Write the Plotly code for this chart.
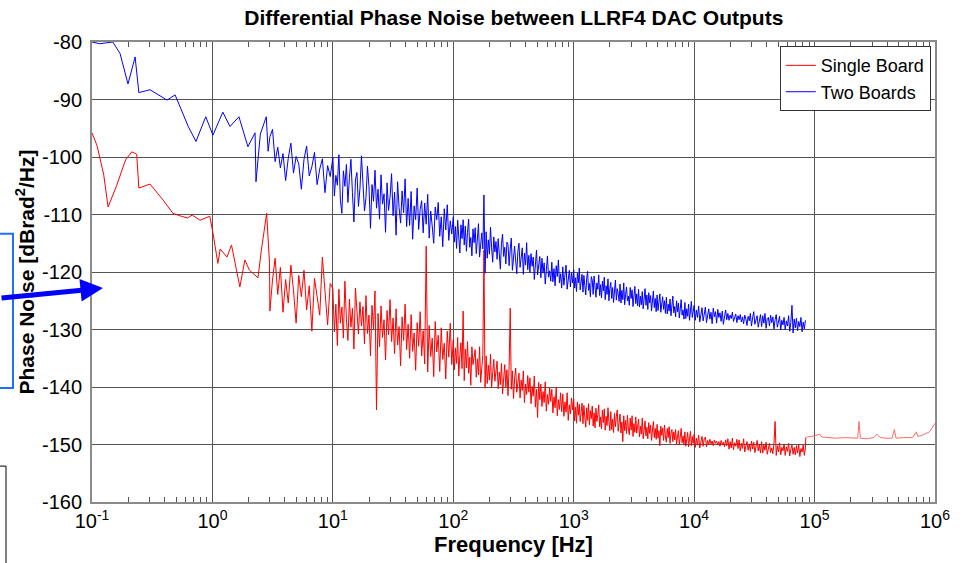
import numpy as np
import plotly.graph_objects as go

# ---------------- data ----------------
# low-frequency part, sparse points
two_low_f = [0.1, 0.116, 0.149, 0.171, 0.199, 0.228, 0.245, 0.303, 0.42, 0.49, 0.63, 0.73, 0.88,
             1.01, 1.22, 1.40, 1.66, 1.97, 2.26, 2.3, 2.5, 2.8, 2.9]
two_low_db = [-80, -80.3, -80, -82, -87.3, -82.6, -88.8, -88.3, -90.1, -89.2, -94.7, -97.3, -93,
              -96.2, -92.2, -94.7, -93, -98.2, -95.8, -104.3, -96, -93, -99]

single_low_f = [0.1, 0.11, 0.125, 0.136, 0.16, 0.19, 0.214, 0.235, 0.245, 0.303, 0.39, 0.47, 0.55,
                0.62, 0.68, 0.79, 0.95, 1.01, 1.11, 1.16, 1.32, 1.44, 1.69, 1.86, 2.03, 2.39,
                2.55, 2.82, 2.98]
single_low_db = [-95.8, -98, -103, -108.7, -105, -100.5, -99.1, -99.5, -105.4, -104.7, -107.5,
                 -109.8, -110.3, -110.6, -110.1, -111, -110.3, -113.2, -118.5, -116, -117.4,
                 -115.3, -122.6, -117.9, -119.7, -121, -116.2, -109.8, -118.5]

# dense (measured) part: sample grid per segment (start, stop, points, include stop)
seg_edges = [(3, 10, 24, False), (10, 100, 80, False), (100, 1000, 110, False),
             (1000, 10000, 130, False), (10000, 84000, 100, True)]

two_dense_db = [
    # 3 - 10 Hz
    -96.5, -95.2, -100.8, -98.3, -101.9, -99.4, -104.1, -100.2, -97.6, -102.8, -99.9, -101.2,
    -105.6, -100.4, -98.1, -103.3, -101.7, -99.2, -104.8, -102.1, -100.3, -106.2, -101.5, -103.4,
    # 10 - 100 Hz
    -100.1, -106.8, -103.2, -104.9, -99.6, -107.5, -109.8, -102.4, -105.1, -101.3,
    -107.9, -103.6, -100.4, -106.2, -111.3, -104.0, -102.7, -108.6, -105.5, -99.8,
    -103.9, -109.4, -107.1, -101.6, -105.2, -112.4, -104.8, -107.7, -102.3, -108.9,
    -105.6, -110.8, -103.1, -108.2, -106.4, -113.1, -104.5, -109.3, -107.0, -102.9,
    -110.2, -106.1, -113.6, -104.3, -108.8, -111.5, -105.9, -109.7, -103.8, -112.1,
    -107.2, -111.9, -106.0, -114.3, -108.5, -110.9, -105.4, -112.6, -109.1, -107.6,
    -113.2, -108.0, -111.7, -106.5, -114.1, -109.4, -112.0, -115.0, -108.7, -110.9,
    -107.9, -113.8, -110.4, -115.6, -109.0, -112.7, -108.3, -114.5, -111.1, -113.4,
    # 100 - 1000 Hz
    -110.4, -114.8, -112.1, -115.9, -111.0, -113.6, -116.7, -111.8, -114.2, -110.9,
    -115.3, -112.0, -116.4, -113.1, -110.8, -115.7, -114.0, -117.2, -112.5, -114.9,
    -112.3, -116.8, -114.0, -111.6, -117.4, -115.1, -113.2, -116.0, -106.6, -120.2,
    -113.0, -117.6, -114.4, -116.9, -112.2, -115.8, -118.3, -113.9, -116.5, -114.7,
    -117.8, -114.2, -116.9, -119.5, -115.0, -113.4, -117.3, -115.7, -118.6, -114.8,
    -115.2, -118.9, -116.0, -114.1, -119.7, -117.2, -115.5, -118.1, -120.3, -116.4,
    -115.0, -119.2, -117.9, -115.8, -120.4, -116.7, -118.8, -114.9, -119.6, -117.1,
    -120.1, -116.8, -119.0, -117.4, -121.3, -118.0, -116.2, -120.5, -118.7, -117.3,
    -121.0, -117.6, -120.2, -118.4, -122.1, -119.5, -117.2, -120.9, -119.8, -121.6,
    -118.3, -121.7, -119.4, -122.4, -118.9, -120.8, -117.9, -121.9, -120.3, -122.8,
    -119.1, -122.3, -120.6, -118.8, -123.0, -121.2, -119.7, -122.6, -120.1, -121.9,
    # 1 k - 10 kHz
    -119.6, -122.8, -121.0, -123.4, -120.2, -121.9, -119.3, -123.1, -121.5, -120.4,
    -123.5, -120.6, -122.4, -124.0, -121.1, -119.9, -123.2, -122.0, -124.3, -120.8,
    -121.4, -123.9, -120.7, -122.8, -124.4, -121.9, -123.0, -120.5, -124.1, -122.2,
    -124.5, -121.6, -123.3, -120.9, -124.8, -122.4, -123.9, -121.2, -125.0, -122.9,
    -121.8, -124.6, -122.7, -125.3, -123.5, -121.4, -124.9, -122.9, -123.8, -125.1,
    -122.1, -125.4, -123.2, -124.8, -121.9, -125.7, -123.9, -122.6, -125.0, -124.2,
    -125.8, -122.7, -124.6, -123.1, -126.0, -124.4, -122.5, -125.5, -123.8, -125.9,
    -123.0, -126.1, -124.2, -125.7, -123.4, -126.4, -124.9, -122.9, -125.8, -124.0,
    -126.5, -123.6, -125.4, -124.1, -126.8, -125.2, -123.3, -126.2, -124.6, -126.9,
    -124.0, -126.7, -125.1, -123.8, -127.0, -125.7, -124.3, -126.5, -125.0, -127.2,
    -124.4, -127.3, -125.6, -126.8, -124.7, -127.6, -125.9, -124.2, -127.1, -126.0,
    -127.8, -125.0, -126.9, -125.4, -128.0, -126.2, -124.8, -127.5, -126.6, -128.2,
    -125.3, -128.1, -126.4, -127.7, -125.6, -128.4, -126.9, -125.1, -127.9, -126.5,
    # 10 k - 84 kHz
    -125.8, -128.4, -126.6, -127.9, -125.9, -128.7, -127.0, -126.2, -128.5, -127.3,
    -126.1, -128.8, -127.5, -126.4, -128.2, -127.0, -129.0, -126.3, -127.8, -126.9,
    -128.9, -126.5, -127.9, -127.1, -128.6, -126.8, -129.1, -127.6, -126.6, -128.3,
    -127.2, -128.4, -127.5, -128.1, -127.0, -128.6, -127.9, -127.3, -128.8, -127.6,
    -128.3, -127.4, -128.7, -127.8, -129.0, -127.5, -128.2, -129.3, -127.7, -128.5,
    -127.2, -129.4, -128.0, -126.9, -129.1, -128.4, -127.6, -129.6, -128.2, -127.4,
    -129.5, -127.6, -128.9, -127.2, -129.8, -128.1, -127.9, -129.4, -127.5, -128.8,
    -127.8, -129.9, -128.3, -127.4, -129.6, -128.7, -127.7, -130.1, -128.4, -129.2,
    -127.9, -130.0, -128.5, -129.4, -127.6, -130.3, -128.8, -125.8, -130.6, -128.2,
    -129.7, -128.0, -130.2, -128.6, -129.5, -127.9, -130.4, -128.7, -129.9, -128.4,
]

single_dense_db = [
    # 3 - 10 Hz
    -126.8, -121.4, -117.6, -123.9, -119.2, -127.0, -121.3, -125.4, -118.8, -123.2, -128.9, -120.6,
    -124.3, -119.7, -126.6, -122.4, -130.3, -121.1, -124.8, -127.5, -117.4, -123.6, -129.2, -122.0,
    # 10 - 100 Hz
    -122.9, -130.4, -125.6, -132.8, -123.0, -128.9, -126.1, -131.5, -121.6, -128.2,
    -131.9, -124.7, -129.6, -126.3, -133.4, -122.8, -127.9, -130.8, -125.2, -129.4,
    -126.0, -132.5, -124.1, -130.7, -127.5, -134.6, -125.8, -129.9, -123.3, -144.0,
    -127.2, -133.0, -125.9, -131.4, -128.3, -135.3, -126.7, -130.9, -124.8, -132.1,
    -128.0, -134.2, -126.4, -132.7, -129.5, -136.3, -127.8, -131.9, -125.6, -133.5,
    -129.1, -135.0, -127.4, -133.8, -130.6, -137.1, -128.8, -132.9, -126.9, -134.6,
    -130.2, -136.0, -115.5, -137.4, -129.3, -134.7, -131.5, -138.2, -128.6, -133.9,
    -131.0, -137.3, -129.7, -135.2, -132.4, -138.6, -130.3, -134.8, -128.9, -136.1,
    # 100 - 1000 Hz
    -131.8, -137.0, -133.2, -135.9, -131.4, -138.1, -134.6, -132.3, -136.8, -126.8,
    -138.9, -133.4, -136.7, -132.1, -137.6, -134.8, -139.7, -133.0, -136.1, -134.2,
    -133.5, -138.3, -135.1, -137.9, -133.0, -139.2, -136.0, -134.4, -116.2, -140.2,
    -134.6, -139.4, -136.2, -138.8, -134.3, -140.1, -137.5, -135.2, -139.0, -136.4,
    -135.5, -140.3, -137.4, -139.6, -135.9, -141.2, -138.2, -136.1, -140.0, -137.0,
    -141.5, -136.4, -126.3, -140.4, -137.2, -142.0, -138.6, -136.7, -140.9, -139.3,
    -137.6, -141.9, -138.8, -140.6, -137.2, -142.7, -139.5, -141.3, -138.0, -140.9,
    -138.4, -142.9, -139.9, -141.6, -138.1, -143.5, -140.4, -145.3, -139.2, -142.2,
    -139.5, -143.4, -140.8, -142.7, -139.1, -144.2, -141.3, -143.0, -140.2, -142.5,
    -140.4, -144.5, -141.7, -143.6, -140.0, -145.0, -142.2, -143.9, -141.0, -144.3,
    -141.2, -145.1, -142.6, -144.4, -141.0, -145.8, -143.1, -144.7, -141.9, -144.0,
    # 1 k - 10 kHz
    -142.1, -145.9, -143.5, -146.3, -142.6, -144.9, -143.0, -146.0, -144.4, -142.8,
    -146.4, -143.2, -145.3, -147.0, -143.6, -145.8, -142.9, -146.6, -144.1, -145.5,
    -143.3, -146.8, -144.5, -147.1, -143.7, -146.0, -144.8, -143.1, -146.9, -145.2,
    -147.3, -144.0, -146.2, -143.8, -147.5, -145.1, -146.7, -143.6, -146.0, -147.6,
    -144.3, -147.4, -145.6, -147.9, -144.6, -146.9, -145.1, -144.0, -147.7, -146.3,
    -144.7, -148.0, -146.1, -149.5, -145.0, -147.6, -145.8, -148.1, -144.9, -147.2,
    -148.3, -145.4, -147.5, -145.0, -148.6, -146.4, -147.9, -145.2, -148.0, -146.8,
    -145.6, -148.7, -146.8, -148.2, -145.4, -149.0, -147.3, -145.9, -148.5, -147.0,
    -149.0, -146.2, -148.1, -146.6, -149.3, -147.4, -146.0, -148.8, -147.2, -149.1,
    -146.5, -148.9, -147.6, -150.2, -146.8, -148.4, -147.1, -149.3, -146.6, -148.7,
    -149.6, -147.2, -148.8, -146.9, -149.8, -148.0, -147.4, -149.5, -147.8, -149.2,
    -147.4, -149.9, -148.3, -147.6, -150.1, -148.9, -147.2, -149.7, -148.5, -150.0,
    -147.8, -150.3, -148.9, -147.9, -150.4, -149.3, -147.7, -150.2, -148.6, -149.8,
    # 10 k - 84 kHz
    -148.2, -150.5, -148.9, -150.1, -148.4, -150.6, -149.2, -148.6, -150.3, -149.0,
    -148.7, -150.4, -149.3, -150.0, -149.1, -149.9, -149.4, -150.2, -149.2, -149.8,
    -149.4, -150.1, -149.5, -150.3, -149.3, -150.0, -149.6, -150.4, -149.2, -150.2,
    -149.0, -150.8, -149.5, -150.6, -148.9, -150.9, -149.7, -150.3, -149.1, -150.7,
    -149.2, -151.1, -149.8, -150.7, -149.0, -151.3, -150.2, -149.5, -151.0, -149.9,
    -151.2, -149.4, -150.8, -149.6, -151.4, -150.1, -149.3, -151.1, -150.0, -151.5,
    -149.5, -151.5, -150.1, -151.0, -149.6, -151.7, -150.3, -149.8, -151.4, -150.6,
    -151.6, -149.8, -146.0, -151.9, -150.2, -151.3, -149.7, -151.8, -150.5, -151.1,
    -149.9, -151.9, -150.4, -151.2, -149.8, -152.0, -150.8, -150.1, -151.7, -150.5,
    -151.8, -150.2, -151.5, -150.0, -152.1, -150.7, -151.3, -150.1, -151.9, -150.6,
]

# single board, above 84 kHz (sparser data)
single_tail_f = [8.45e4, 8.7e4, 1.0e5, 1.1e5, 1.15e5, 1.3e5, 1.5e5, 1.8e5, 2.1e5, 2.28e5, 2.34e5,
                 2.4e5, 2.7e5, 3.1e5, 3.3e5, 3.5e5, 4.0e5, 4.4e5, 4.6e5, 4.75e5, 5.5e5, 6.5e5,
                 7.0e5, 7.2e5, 8.0e5, 9.0e5, 1.0e6]
single_tail_db = [-148.8, -148.7, -148.5, -148.2, -148.7, -148.8, -148.9, -148.8, -148.9, -148.9,
                  -146.0, -148.9, -149.0, -148.8, -148.2, -148.8, -148.9, -148.9, -147.4, -148.9,
                  -148.8, -148.8, -147.8, -148.6, -148.3, -147.8, -146.3]

x_tick_vals = [0.1, 1, 10, 100, 1e3, 1e4, 1e5, 1e6]
x_tick_text = ["10<sup>-1</sup>", "10<sup>0</sup>", "10<sup>1</sup>", "10<sup>2</sup>",
               "10<sup>3</sup>", "10<sup>4</sup>", "10<sup>5</sup>", "10<sup>6</sup>"]
y_tick_vals = [-80, -90, -100, -110, -120, -130, -140, -150, -160]
y_tick_text = ["-80", "-90", "-100", "-110", "-120", "-130", "-140", "-150", "-160"]

FONT = "Arial, Liberation Sans, sans-serif"


def dense_grid():
    parts = [np.geomspace(a, b, n, endpoint=ep) for a, b, n, ep in seg_edges]
    return np.concatenate(parts)


def create_figure(title):
    fig = go.Figure()
    fig.update_layout(width=964, height=563, template="plotly_white",
                      title=dict(text=title, x=0.533, y=0.982, xanchor="center", yanchor="top",
                                 font=dict(size=21, family=FONT, color="black", weight="bold")))
    return fig


def plot(fig):
    f = dense_grid()
    red_f = list(single_low_f) + list(f)
    red_db = single_low_db + single_dense_db
    blue_f = list(two_low_f) + list(f)
    blue_db = two_low_db + two_dense_db

    fig.add_trace(go.Scatter(x=red_f + single_tail_f[:1], y=red_db + single_tail_db[:1],
                             mode="lines", name="Single Board",
                             line=dict(color="#ff0000", width=1)))
    fig.add_trace(go.Scatter(x=single_tail_f, y=single_tail_db, mode="lines", showlegend=False,
                             line=dict(color="#ff6a6a", width=1)))
    fig.add_trace(go.Scatter(x=blue_f, y=blue_db, mode="lines", name="Two Boards",
                             line=dict(color="#0000ff", width=1)))


def touch_up(fig):
    fig.update_layout(margin=dict(l=92, r=29, t=42, b=61, autoexpand=False),
                      paper_bgcolor="white", plot_bgcolor="white",
                      font=dict(family=FONT, color="black"))
    minor_vals = [m * 10 ** e for e in range(-1, 6) for m in range(2, 10)]
    fig.update_xaxes(type="log", range=[-1, 6], tickvals=x_tick_vals, ticktext=x_tick_text,
                     tickfont=dict(size=20), showgrid=True, gridcolor="#555555", gridwidth=1.3,
                     showline=True, linecolor="#8a8a8a", linewidth=2, mirror=True,
                     ticks="", zeroline=False, automargin=False,
                     minor=dict(tickvals=minor_vals, ticks="inside", ticklen=5,
                                tickcolor="#555555", showgrid=False),
                     title=dict(text="<b>Frequency [Hz]</b>", font=dict(size=22), standoff=4))
    fig.update_yaxes(range=[-160, -80], tickvals=y_tick_vals, ticktext=y_tick_text,
                     tickfont=dict(size=20), showgrid=True, gridcolor="#555555", gridwidth=1.3,
                     showline=True, linecolor="#8a8a8a", linewidth=2, mirror=True,
                     ticks="", zeroline=False, ticklabelstandoff=4, automargin=False,
                     title=dict(text="<b>Phase Noise [dBrad<sup>2</sup>/Hz]</b>",
                                font=dict(size=21), standoff=2))
    # top axis carrying the mirrored minor ticks
    fig.update_layout(xaxis2=dict(type="log", range=[-1, 6], overlaying="x", side="top",
                                  anchor="y", showticklabels=False, showgrid=False,
                                  zeroline=False, showline=False, tickvals=x_tick_vals,
                                  ticks="", automargin=False,
                                  minor=dict(tickvals=minor_vals, ticks="inside", ticklen=5,
                                             tickcolor="#555555", showgrid=False)))
    fig.add_trace(go.Scatter(x=[0.1], y=[-200], xaxis="x2", mode="lines",
                             showlegend=False, hoverinfo="skip"))
    fig.update_layout(legend=dict(x=0.995, y=0.991, xanchor="right", yanchor="top",
                                  bgcolor="white", bordercolor="#333333", borderwidth=1,
                                  font=dict(size=18, family=FONT), tracegroupgap=0,
                                  itemwidth=30))

    # slide overlays at the left edge
    fig.add_shape(type="rect", xref="paper", yref="paper", x0=-0.121, x1=-0.0937,
                  y0=0.248, y1=0.583, line=dict(color="#1f6fff", width=2), layer="above")
    fig.add_shape(type="rect", xref="paper", yref="paper", x0=-0.121, x1=-0.102,
                  y0=-0.15, y1=0.078, line=dict(color="black", width=1), layer="above")
    fig.add_annotation(x=0.013, y=0.465, xref="paper", yref="paper", ax=-106, ay=10,
                       showarrow=True, arrowhead=2, arrowsize=0.9, arrowwidth=5,
                       arrowcolor="#0000ff", text="")


def main():
    fig = create_figure("Differential Phase Noise between LLRF4 DAC Outputs")
    plot(fig)
    touch_up(fig)
    # drop the page's default body margin so the figure sits at the window origin
    fig.write_html("out.html", config={"displayModeBar": False},
                   post_script="document.body.style.margin='0';")


main()
